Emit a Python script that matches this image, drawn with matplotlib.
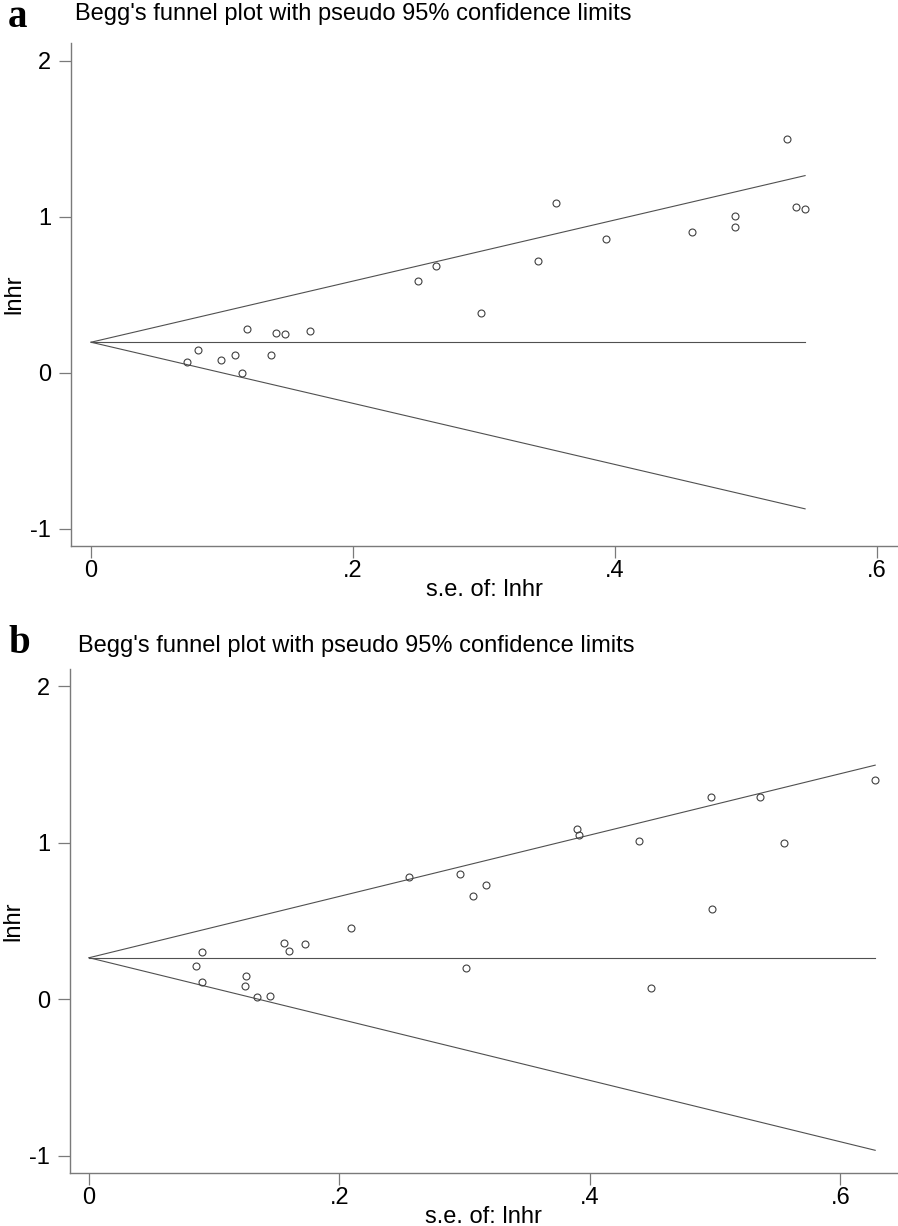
import matplotlib
matplotlib.use("Agg")
import matplotlib.pyplot as plt
import numpy as np

plt.rcParams['font.family'] = ['Liberation Sans', 'DejaVu Sans']
plt.rcParams['axes.unicode_minus'] = False

# panel a: s.e. of lnhr and lnhr
se_a = [0.0735, 0.082, 0.099, 0.110, 0.115, 0.119, 0.1377, 0.1415, 0.148, 0.167,
        0.2499, 0.2631, 0.298, 0.3415, 0.355, 0.393, 0.4588, 0.4914, 0.4916, 0.531,
        0.538, 0.545]
lnhr_a = [0.069, 0.149, 0.085, 0.113, 0.0, 0.282, 0.113, 0.254, 0.248, 0.269,
          0.590, 0.686, 0.387, 0.718, 1.09, 0.861, 0.902, 0.936, 1.006, 1.50,
          1.064, 1.049]
pooled_a = 0.197

# panel b
se_b = [0.0858, 0.090, 0.090, 0.125, 0.1248, 0.1339, 0.1445, 0.156, 0.1594, 0.1726,
        0.2096, 0.2558, 0.2964, 0.3007, 0.3068, 0.3174, 0.3896, 0.3912, 0.4393, 0.4488,
        0.4964, 0.4972, 0.536, 0.5554, 0.6279]
lnhr_b = [0.213, 0.298, 0.111, 0.149, 0.085, 0.011, 0.021, 0.356, 0.309, 0.349,
          0.452, 0.781, 0.797, 0.200, 0.660, 0.726, 1.088, 1.050, 1.012, 0.068,
          1.291, 0.577, 1.293, 0.997, 1.401]
pooled_b = 0.264

xticks = [0, 0.2, 0.4, 0.6]
xticklabels = ['0', '.2', '.4', '.6']
yticks = [-1, 0, 1, 2]

title = "Begg's funnel plot with pseudo 95% confidence limits"
line_col = '#505050'
spine_col = '#7a7a7a'
fs = 17


def funnel(ax, se, lnhr, pooled, xlim, ylim):
    se = np.array(se)
    smax = se.max()
    ax.plot([0, smax], [pooled, pooled], color=line_col, lw=0.8)
    ax.plot([0, smax], [pooled, pooled + 1.96 * smax], color=line_col, lw=0.8)
    ax.plot([0, smax], [pooled, pooled - 1.96 * smax], color=line_col, lw=0.8)
    ax.plot(se, lnhr, 'o', ms=5, mfc='none', mec='#404040', mew=0.8)
    ax.set_xlim(*xlim)
    ax.set_ylim(*ylim)
    ax.set_xticks(xticks)
    ax.set_xticklabels(xticklabels)
    ax.set_yticks(yticks)
    for s in ['top', 'right']:
        ax.spines[s].set_visible(False)
    for s in ['left', 'bottom']:
        ax.spines[s].set_color(spine_col)
        ax.spines[s].set_linewidth(1.0)
    ax.tick_params(length=8.5, width=0.9, color=spine_col, labelsize=fs)
    ax.tick_params(axis='x', pad=1.5)
    ax.tick_params(axis='y', pad=6)
    ax.set_xlabel('s.e. of: lnhr', fontsize=fs, labelpad=-2)
    ax.set_ylabel('lnhr', fontsize=fs, labelpad=3)


fig = plt.figure(figsize=(8.98, 12.26), dpi=100)

ax_a = fig.add_axes([0.0791, 0.5547, 0.92, 0.4102])
funnel(ax_a, se_a, lnhr_a, pooled_a, (-0.01527, 0.6153), (-1.109, 2.115))
fig.text(8 / 898, 1 - 27 / 1226, 'a', fontsize=28, fontweight='bold',
         family='Liberation Serif', va='baseline')
fig.text(75 / 898, 1 - 20 / 1226, title, fontsize=fs, va='baseline')

ax_b = fig.add_axes([0.078, 0.0432, 0.921, 0.4111])
funnel(ax_b, se_b, lnhr_b, pooled_b, (-0.0152, 0.6454), (-1.112, 2.109))
fig.text(8 / 898, 1 - 653 / 1226, 'b', fontsize=28, fontweight='bold',
         family='Liberation Serif', va='baseline')
fig.text(78 / 898, 1 - 652 / 1226, title, fontsize=fs, va='baseline')

fig.savefig('out.png', dpi=100, facecolor='white')
